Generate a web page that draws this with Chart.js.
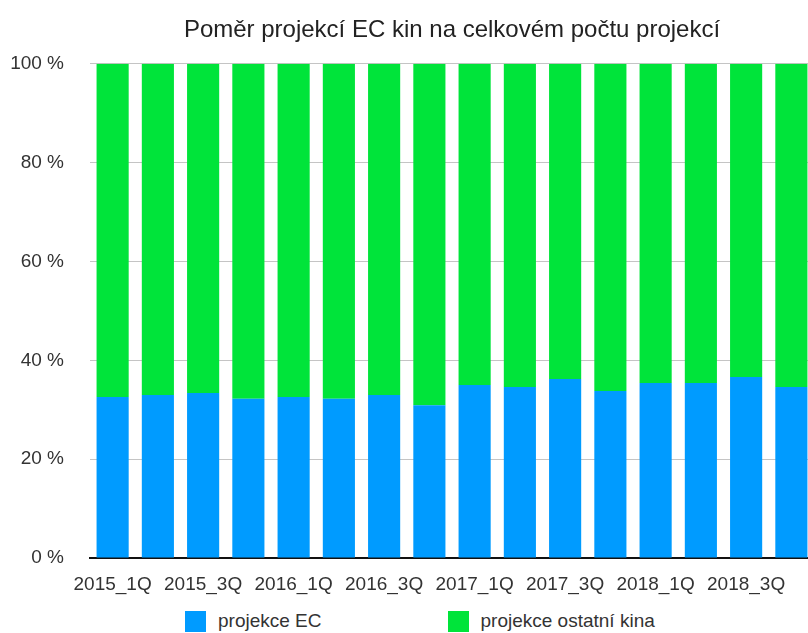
<!DOCTYPE html>
<html>
<head>
<meta charset="utf-8">
<script src="https://cdn.jsdelivr.net/npm/chart.js@4/dist/chart.umd.min.js"></script>
<style>
  html, body { margin: 0; padding: 0; background: #fff; overflow: hidden; }
  #wrap { position: relative; width: 814px; height: 633px; }
  #legend { position: absolute; left: 185px; top: 610px; display: flex; font-family: "Liberation Sans", Arial, sans-serif; font-size: 19px; color: #333; }
  .item { display: flex; align-items: center; margin-right: 126px; }
  .box { width: 21px; height: 21px; margin-right: 12px; }
</style>
</head>
<body>
<div id="wrap">
  <canvas id="chart" width="814" height="600"></canvas>
  <div id="legend"></div>
</div>
<script>
const quarters = [
  "2015_1Q", "2015_2Q", "2015_3Q", "2015_4Q",
  "2016_1Q", "2016_2Q", "2016_3Q", "2016_4Q",
  "2017_1Q", "2017_2Q", "2017_3Q", "2017_4Q",
  "2018_1Q", "2018_2Q", "2018_3Q", "2018_4Q"
];

// podíl projekcí EC kin (%)
const ecShare = [32.6, 33.0, 33.4, 32.2, 32.6, 32.2, 33.0, 30.9, 35.0, 34.6, 36.2, 33.8, 35.4, 35.4, 36.6, 34.6];
const otherShare = ecShare.map(v => +(100 - v).toFixed(1));

const yTicks = [0, 20, 40, 60, 80, 100];

const seriesNames = ["projekce EC", "projekce ostatní kina"];
const seriesColors = ["#009bff", "#00e43a"];

const font = "'Liberation Sans', Arial, sans-serif";

new Chart(document.getElementById("chart"), {
  type: "bar",
  data: {
    labels: quarters,
    datasets: [
      { label: seriesNames[0], data: ecShare, backgroundColor: seriesColors[0] },
      { label: seriesNames[1], data: otherShare, backgroundColor: seriesColors[1] }
    ]
  },
  options: {
    responsive: false,
    animation: false,
    categoryPercentage: 1,
    barPercentage: 0.71,
    layout: { padding: 0 },
    plugins: {
      legend: { display: false },
      tooltip: { enabled: false },
      title: {
        display: true,
        fullSize: false,
        text: "Poměr projekcí EC kin na celkovém počtu projekcí",
        color: "#222",
        font: { family: font, size: 24, weight: "normal" },
        padding: { top: 16, bottom: 19 }
      }
    },
    scales: {
      x: {
        stacked: true,
        grid: { display: false },
        border: { color: "#111", width: 2 },
        ticks: {
          autoSkip: false,
          maxRotation: 0,
          padding: 7,
          color: "#333",
          font: { family: font, size: 19 },
          callback: (v, i) => (i % 2 === 0 ? quarters[i] : "")
        },
        afterFit: s => { s.height = 42; }
      },
      y: {
        stacked: true,
        min: 0,
        max: 100,
        afterBuildTicks: s => { s.ticks = yTicks.map(v => ({ value: v })); },
        grid: { color: "#c4c4c4", lineWidth: 1, drawTicks: false },
        border: { display: false },
        ticks: {
          padding: 26,
          color: "#333",
          font: { family: font, size: 19 },
          callback: v => v + " %"
        },
        afterFit: s => { s.width = 90; }
      }
    }
  }
});

document.getElementById("legend").innerHTML = seriesNames.map((name, i) => `
  <div class="item"><span class="box" style="background:${seriesColors[i]}"></span>${name}</div>
`).join("");
</script>
</body>
</html>
